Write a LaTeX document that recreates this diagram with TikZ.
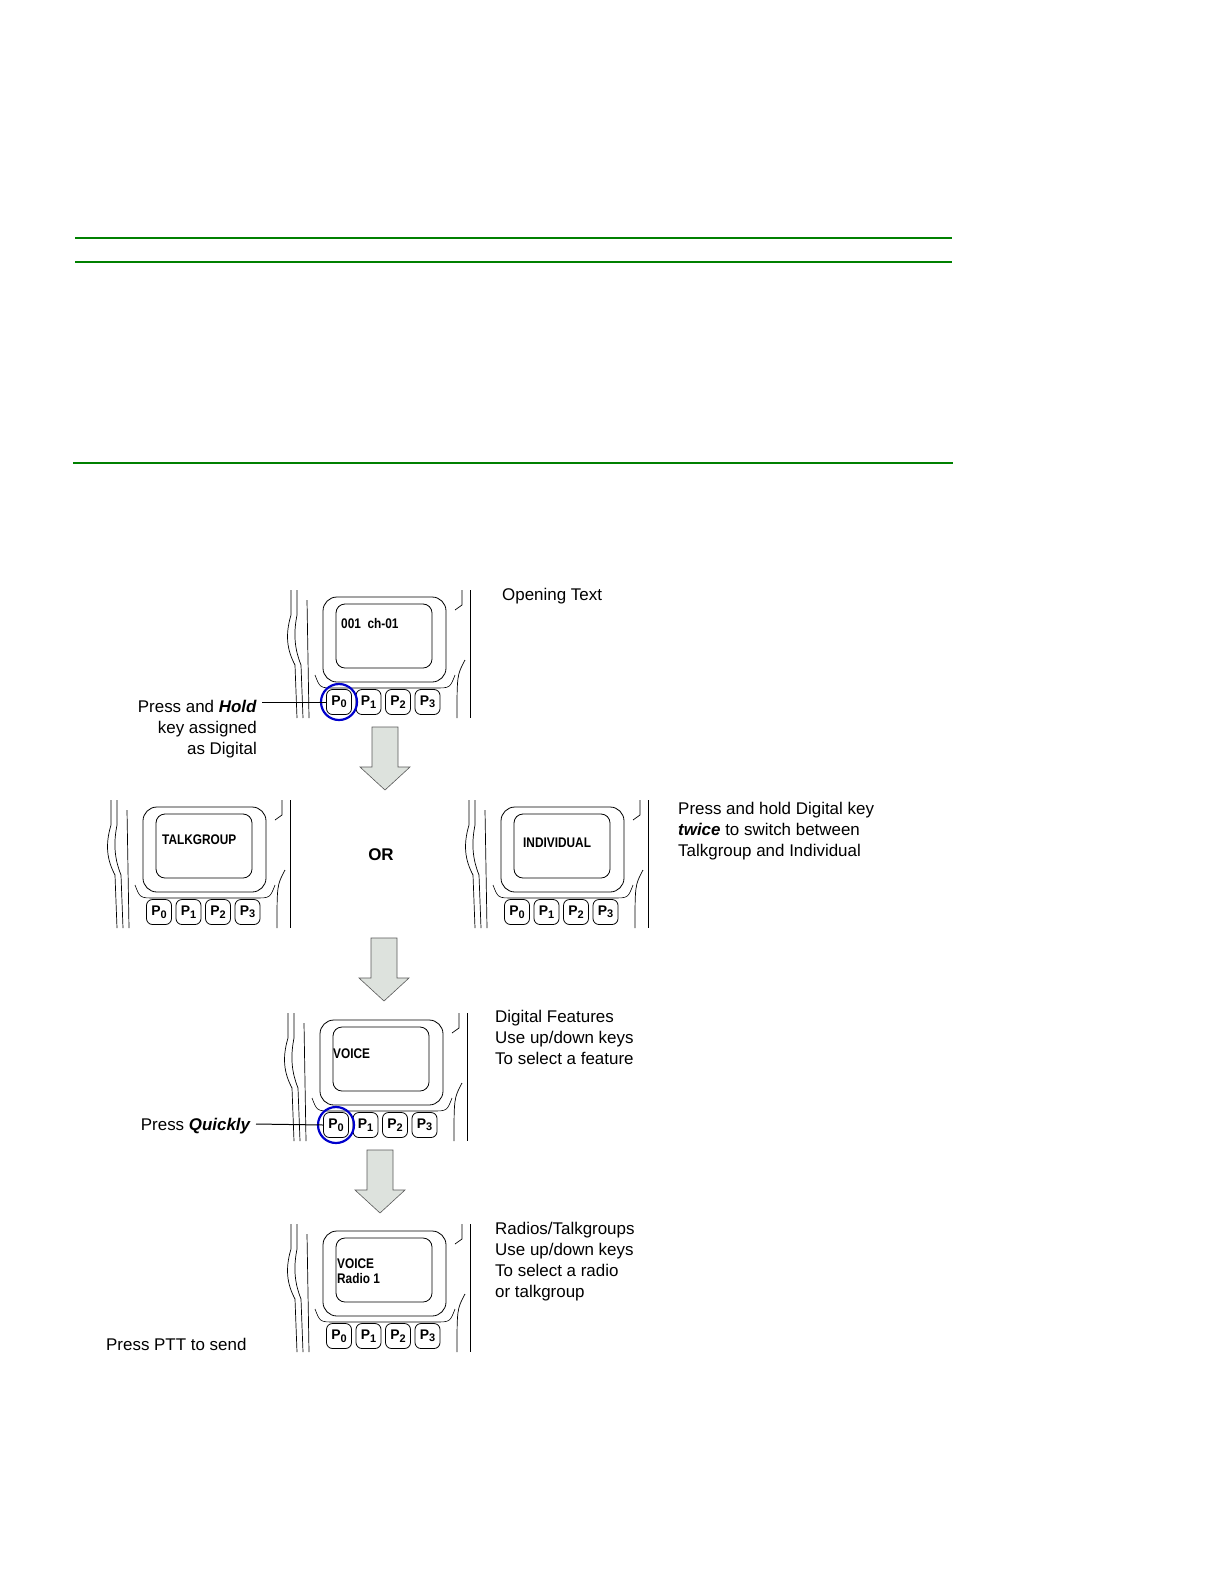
\documentclass[tikz,border=0pt]{standalone}
\usepackage{fontspec}
\setmainfont{Liberation Sans}
\newcommand{\pk}[1]{P{\fontsize{11}{11}\selectfont\raisebox{-2.5pt}{#1}}}
\begin{document}
\begin{tikzpicture}[x=1bp,y=1bp,
  lbl/.style={font=\fontsize{17}{21}\selectfont,inner sep=0pt},
  scr/.style={font=\bfseries\fontsize{14}{15}\selectfont,inner sep=0pt,anchor=west,xscale=0.85},
  gline/.style={draw=green!50!black,line width=2pt},
  barrow/.style={draw=gray!70!black,fill=green!8!gray!25,line width=0.6pt},
  btn/.style={draw,line width=0.8pt,rounded corners=6pt,minimum width=25bp,minimum height=25bp,inner sep=0pt,font=\bfseries\fontsize{14}{14}\selectfont},
  pics/radio/.style={code={
    \draw[line width=0.7pt] (6,0) -- (6,-25) .. controls (0,-45) and (2,-60) .. (10,-75) -- (12,-128);
    \draw[line width=0.7pt] (12,0) -- (12,-25) .. controls (8,-45) and (10,-60) .. (16,-75) -- (18,-128);
    \draw[line width=0.7pt] (22,-10) -- (24,-128);
    \draw[line width=0.7pt] (177,0) -- (177,-15) -- (170,-20);
    \draw[line width=0.7pt] (185,0) -- (185,-128);
    \draw[line width=0.7pt] (180,-70) .. controls (172,-85) .. (172,-128);
    \draw[line width=0.8pt,rounded corners=14pt] (38,-7) rectangle (161,-92);
    \draw[line width=0.8pt,rounded corners=9pt] (51,-14) rectangle (147,-78);
    \draw[line width=0.6pt] (30,-85) .. controls (35,-98) .. (50,-98) -- (150,-98) .. controls (165,-98) .. (170,-85);
    \foreach \i in {0,1,2,3} \node[btn] (-b\i) at (54+29.5*\i,-112) {\pk{\i}};
  }}]
\useasboundingbox (0,0) rectangle (1224,-1584);
\draw[gline] (75,-238) -- (952,-238);
\draw[green!50!black,line width=1.3pt] (75,-262) -- (952,-262);
\draw[gline] (73,-463) -- (953,-463);
\pic (r1) at (285,-590) {radio};
\node[scr] (t1) at (341,-624) {001\ \ ch-01};
\pic (r2) at (105,-800) {radio};
\node[scr] (t2) at (162,-840) {TALKGROUP};
\pic (r3) at (463,-800) {radio};
\node[scr] (t3) at (523,-843) {INDIVIDUAL};
\pic (r4) at (282,-1013) {radio};
\node[scr] (t4) at (333,-1054) {VOICE};
\pic (r5) at (285,-1224) {radio};
\node[scr,align=left] (t5) at (337,-1271) {VOICE\\Radio 1};
\draw[blue!80!black,line width=2.2pt] (r1-b0) circle (18bp);
\draw[blue!80!black,line width=2.2pt] (r4-b0) circle (18bp);
\node[lbl,anchor=north west] (l1) at (502,-588) {Opening Text};
\node[lbl,anchor=east,align=right] (l2) at (257,-729) {Press and \textbf{\textit{Hold}}\\key assigned\\as Digital};
\coordinate (c2) at (262,-702);
\draw[line width=1pt] (c2) -- (r1-b0.west);
\node[lbl,font=\bfseries\fontsize{17}{21}\selectfont] (or) at (381,-855) {OR};
\node[lbl,anchor=north west,align=left] (l3) at (678,-802) {Press and hold Digital key\\\textbf{\textit{twice}} to switch between\\Talkgroup and Individual};
\node[lbl,anchor=north west,align=left] (l4) at (495,-1010) {Digital Features\\Use up/down keys\\To select a feature};
\node[lbl,anchor=east] (l5) at (251,-1126) {Press \textbf{\textit{Quickly}}};
\coordinate (c5) at (256,-1124);
\draw[line width=1pt] (c5) -- (r4-b0.west);
\node[lbl,anchor=north west,align=left] (l6) at (495,-1222) {Radios/Talkgroups\\Use up/down keys\\To select a radio\\or talkgroup};
\node[lbl,anchor=west] (l7) at (106,-1344) {Press PTT to send};
\foreach \x/\y/\n in {385/727/a1,384/938/a2,380/1150/a3}{
  \draw[barrow] (\x-13,-\y) -- (\x+13,-\y) -- (\x+13,-\y-40) -- (\x+25,-\y-40) -- (\x,-\y-63) -- (\x-25,-\y-40) -- (\x-13,-\y-40) -- cycle;
}
\end{tikzpicture}
\end{document}
